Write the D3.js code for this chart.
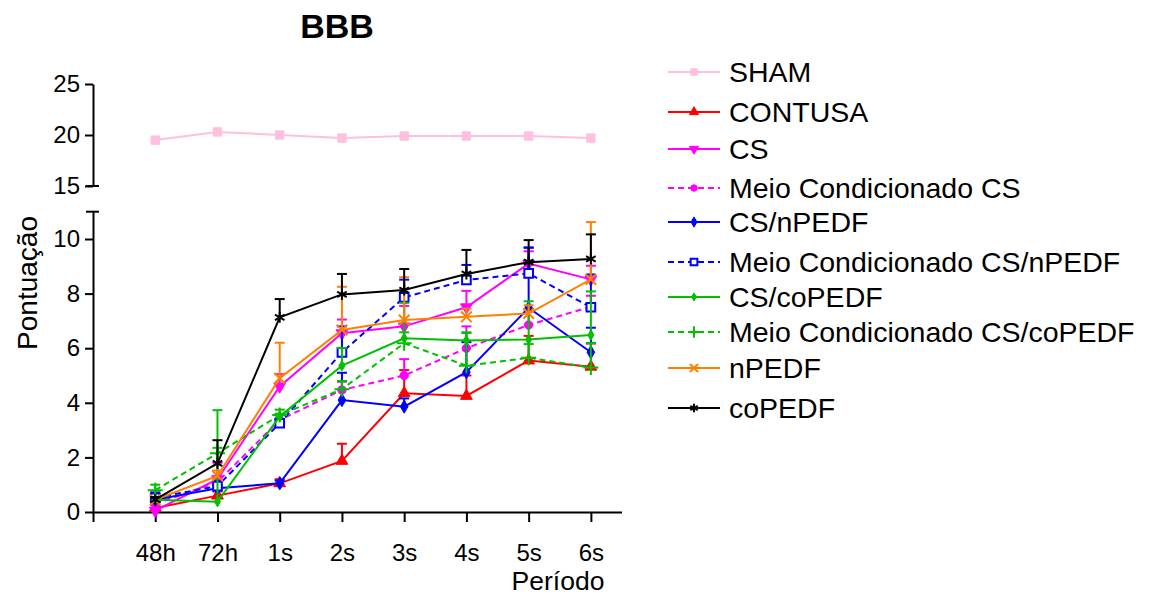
<!DOCTYPE html>
<html>
<head>
<meta charset="utf-8">
<script src="https://cdn.jsdelivr.net/npm/d3@7"></script>
<style>
  body { margin: 0; background: #fff; }
  svg { font-family: "Liberation Sans", Arial, sans-serif; }
</style>
</head>
<body>
<svg id="chart" width="1149" height="596"></svg>
<script>
// ---------- DATA ----------
const categories = ["48h", "72h", "1s", "2s", "3s", "4s", "5s", "6s"];
const yTicksLow = [0, 2, 4, 6, 8, 10];
const yTicksHigh = [15, 20, 25];

const seriesNames = ["SHAM", "CONTUSA", "CS", "Meio Condicionado CS", "CS/nPEDF",
  "Meio Condicionado CS/nPEDF", "CS/coPEDF", "Meio Condicionado CS/coPEDF", "nPEDF", "coPEDF"];

const shamValues     = [19.5, 20.3, 20.0, 19.7, 19.9, 19.9, 19.9, 19.7];
const shamErr        = [0, 0, 0, 0, 0, 0, 0, 0];
const contusaValues  = [0.15, 0.6, 1.05, 1.87, 4.35, 4.25, 5.55, 5.32];
const contusaErr     = [0.1, 0.15, 0.15, 0.63, 0.85, 0.75, 0.9, 0.85];
const csValues       = [0.05, 1.2, 4.6, 6.55, 6.8, 7.5, 9.1, 8.52];
const csErr          = [0.1, 0.6, 0.45, 0.5, 0.75, 0.6, 0.45, 0.5];
const mcCsValues     = [0.3, 1.1, 3.37, 4.47, 5.0, 6.0, 6.85, 7.52];
const mcCsErr        = [0.1, 0.2, 0.2, 0.3, 0.6, 0.8, 0.5, 0.4];
const csNpedfValues  = [0.45, 0.87, 1.05, 4.1, 3.86, 5.12, 7.48, 5.85];
const csNpedfErr     = [0.15, 0.1, 0.1, 1.0, 0.3, 1.1, 2.2, 0.9];
const mcCsNpedfValues= [0.52, 0.95, 3.25, 5.85, 7.86, 8.5, 8.74, 7.5];
const mcCsNpedfErr   = [0.2, 0.2, 0.15, 0.95, 0.65, 0.55, 0.95, 1.2];
const csCopedfValues = [0.45, 0.38, 3.5, 5.36, 6.36, 6.28, 6.32, 6.48];
const csCopedfErr    = [0.1, 3.35, 0.1, 0.65, 1.3, 0.3, 1.4, 1.6];
const mcCsCopedfValues=[0.8, 2.15, 3.55, 4.5, 6.18, 5.36, 5.65, 5.29];
const mcCsCopedfErr  = [0.2, 0.2, 0.2, 0.3, 0.4, 1.2, 0.5, 0.9];
const npedfValues    = [0.45, 1.32, 4.9, 6.67, 7.03, 7.15, 7.27, 8.52];
const npedfErr       = [0.1, 0.2, 1.3, 1.58, 1.57, 0.3, 0.3, 2.1];
const copedfValues   = [0.45, 1.78, 7.13, 7.97, 8.13, 8.72, 9.15, 9.27];
const copedfErr      = [0.1, 0.85, 0.67, 0.75, 0.77, 0.88, 0.81, 0.9];

const seriesColors = ["#ffbfdf", "#ff0000", "#ff00ff", "#ff00ff", "#0000ff",
  "#0000ff", "#00c000", "#00c000", "#ff8000", "#000000"];

// ---------- TABLE ----------
const seriesValues = [shamValues, contusaValues, csValues, mcCsValues, csNpedfValues,
  mcCsNpedfValues, csCopedfValues, mcCsCopedfValues, npedfValues, copedfValues];
const seriesErrs = [shamErr, contusaErr, csErr, mcCsErr, csNpedfErr,
  mcCsNpedfErr, csCopedfErr, mcCsCopedfErr, npedfErr, copedfErr];
const seriesDashed = [false, false, false, true, false, true, false, true, false, false];
// marker spec: [symbol, size, filled, rotate]
const seriesMarkers = [
  [d3.symbolSquare, 70, true, 0],
  [d3.symbolTriangle, 60, true, 0],
  [d3.symbolTriangle, 60, true, 180],
  [d3.symbolCircle, 55, true, 0],
  [d3.symbolDiamond, 50, true, 0],
  [d3.symbolSquare, 75, false, 0],
  [d3.symbolDiamond, 32, true, 0],
  [d3.symbolPlus, 75, false, 0],
  [d3.symbolX, 75, false, 0],
  [d3.symbolAsterisk, 85, false, 0]
];

const series = seriesNames.map((name, i) => ({
  name, color: seriesColors[i], dashed: seriesDashed[i], marker: seriesMarkers[i],
  upper: i === 0,
  pts: categories.map((c, j) => ({ j: j + 1, v: seriesValues[i][j], e: seriesErrs[i][j] }))
}));

// ---------- SCALES ----------
const svg = d3.select("#chart");
const x = d3.scaleLinear().domain([0, 8.5]).range([93, 622]);
const yLow = d3.scaleLinear().domain([0, 11]).range([512, 211.7]);
const yHigh = d3.scaleLinear().domain([15, 25]).range([186, 84]);
const tickFont = "24px";

// ---------- AXES ----------
const axL = svg.append("g").attr("transform", `translate(${x(0)},0)`)
  .call(d3.axisLeft(yLow).tickValues(yTicksLow).tickSize(8).tickSizeOuter(0).tickPadding(5));
const axH = svg.append("g").attr("transform", `translate(${x(0)},0)`)
  .call(d3.axisLeft(yHigh).tickValues(yTicksHigh).tickSize(8).tickSizeOuter(0).tickPadding(5));
const axB = svg.append("g").attr("transform", `translate(0,${yLow(0)})`)
  .call(d3.axisBottom(x).tickValues(d3.range(0, 9)).tickSize(10).tickSizeOuter(0).tickPadding(22)
    .tickFormat(d => d === 0 ? "" : categories[d - 1]));
[axL, axH, axB].forEach(a => {
  a.selectAll("path,line").attr("stroke", "#000").attr("stroke-width", 2);
  a.selectAll("text").attr("fill", "#000").style("font-size", tickFont)
    .style("font-family", '"Liberation Sans", Arial, sans-serif');
});
axB.select(".domain").attr("d", `M${x(0)},0.5H${x(8.5)}`);
// break marks at axis segment ends
[[yLow(11)], [yHigh(15)]].forEach(([yy]) => {
  svg.append("line").attr("x1", x(0) - 7).attr("x2", x(0) + 6)
    .attr("y1", yy).attr("y2", yy).attr("stroke", "#000").attr("stroke-width", 2);
});

// ---------- TITLES ----------
svg.append("text").attr("x", 337).attr("y", 38).attr("text-anchor", "middle")
  .style("font-size", "34px").style("font-weight", "bold").text("BBB");
svg.append("text").attr("transform", "translate(37,283) rotate(-90)").attr("text-anchor", "middle")
  .style("font-size", "28px").text("Pontuação");
svg.append("text").attr("x", 558).attr("y", 590).attr("text-anchor", "middle")
  .style("font-size", "26.5px").text("Período");

// ---------- MARKS ----------
function drawMarker(g, m, color, cx, cy) {
  const [type, size, filled, rot] = m;
  const p = g.append("path").attr("d", d3.symbol(type, size)())
    .attr("transform", `translate(${cx},${cy}) rotate(${rot})`);
  if (type === d3.symbolSquare && !filled) {
    p.attr("fill", "#fff").attr("stroke", color).attr("stroke-width", 2);
  } else if (filled) {
    p.attr("fill", color).attr("stroke", color).attr("stroke-width", 1);
  } else {
    p.attr("fill", "none").attr("stroke", color).attr("stroke-width", 2);
  }
}

const plot = svg.append("g");
series.forEach(s => {
  const ys = s.upper ? yHigh : yLow;
  const g = plot.append("g");
  // error bars (upper)
  s.pts.filter(p => p.e > 0).forEach(p => {
    g.append("line").attr("x1", x(p.j)).attr("x2", x(p.j))
      .attr("y1", ys(p.v)).attr("y2", ys(p.v + p.e))
      .attr("stroke", s.color).attr("stroke-width", 2);
    g.append("line").attr("x1", x(p.j) - 5).attr("x2", x(p.j) + 5)
      .attr("y1", ys(p.v + p.e)).attr("y2", ys(p.v + p.e))
      .attr("stroke", s.color).attr("stroke-width", 2);
  });
  const line = d3.line().x(p => x(p.j)).y(p => ys(p.v));
  g.append("path").attr("d", line(s.pts)).attr("fill", "none")
    .attr("stroke", s.color).attr("stroke-width", 2)
    .attr("stroke-dasharray", s.dashed ? "6,4" : null);
  s.pts.forEach(p => drawMarker(g, s.marker, s.color, x(p.j), ys(p.v)));
});

// ---------- LEGEND ----------
const legendRows = [72, 112, 149, 188, 222, 262, 297, 332, 368, 408];
const lg = svg.append("g");
series.forEach((s, i) => {
  const yy = legendRows[i];
  lg.append("line").attr("x1", 668).attr("x2", 720).attr("y1", yy).attr("y2", yy)
    .attr("stroke", s.color).attr("stroke-width", 2)
    .attr("stroke-dasharray", s.dashed ? "6,4" : null);
  drawMarker(lg, [s.marker[0], s.marker[1] * 0.6, s.marker[2], s.marker[3]], s.color, 694, yy);
  lg.append("text").attr("x", 729).attr("y", yy + 10).style("font-size", "28.5px").text(s.name);
});
</script>
</body>
</html>
